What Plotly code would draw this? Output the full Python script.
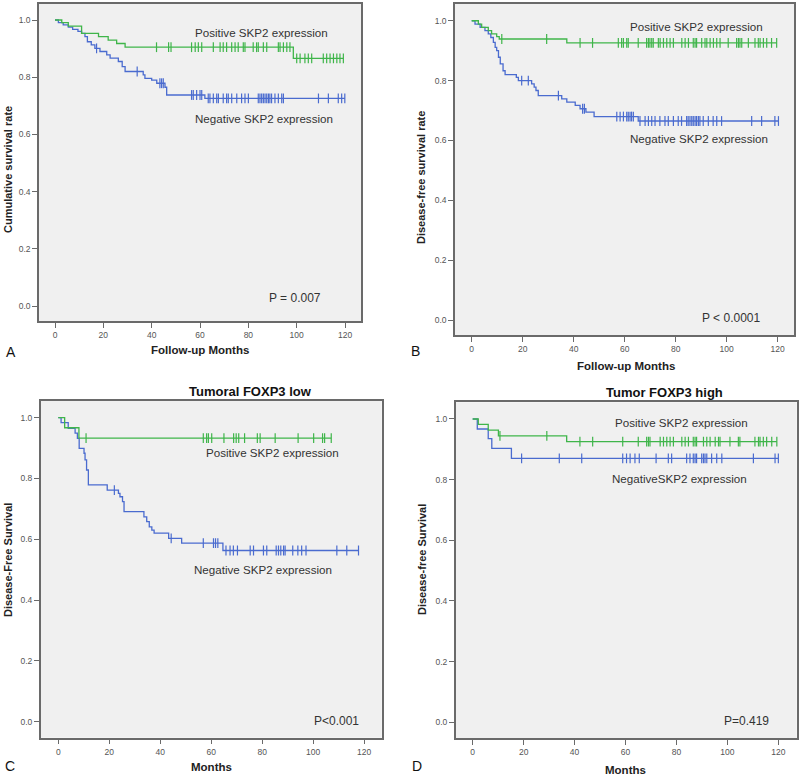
import plotly.graph_objects as go

FONT = "Liberation Sans, Arial, sans-serif"
GREEN = "#3fb54a"
BLUE = "#4a6bcf"

# ---------------- Panel A (overall survival) ----------------
A_pos_t = [2.8, 5.5, 11, 18, 22, 25.5, 29, 98.6]
A_pos_s = [0.991, 0.979, 0.953, 0.942, 0.930, 0.918, 0.905, 0.866]
A_pos_c = [42, 47, 48, 56.5, 58, 59.3, 60.7, 65.5, 68.3, 69.6, 71, 73.1, 74.5, 75.8,
           77.9, 78.6, 82, 83.4, 84.1, 86.2, 87.6, 92.4, 93.1, 94.5, 95.9, 97.2,
           100, 101.4, 103.4, 104.8, 106.2, 111, 112.4, 113.8, 115.2, 116.6, 117.9, 119.3]
A_neg_t = [1.4, 3.4, 5.5, 7.3, 9.5, 11, 12.4, 13.4, 15, 16.5, 18.6, 21.4, 22.8, 26.2,
           27.8, 29, 36.5, 37.2, 40, 42.1, 45.5, 46.2, 62]
A_neg_s = [0.991, 0.983, 0.975, 0.967, 0.96, 0.953, 0.942, 0.924, 0.913, 0.901, 0.89,
           0.878, 0.867, 0.855, 0.837, 0.82, 0.808, 0.796, 0.79, 0.779, 0.765, 0.738, 0.726]
A_neg_c = [17.2, 34, 43.4, 44.1, 44.8, 56.5, 57.2, 58.6, 60, 60.7, 63.4, 64.1, 65.5, 66.9,
           67.6, 69.6, 71, 71.7, 73.1, 75.2, 77.2, 78.6, 80, 84.1, 84.8, 85.5, 86.2, 86.9,
           87.6, 88.3, 88.9, 89.6, 91, 92.4, 93.8, 94.5, 109, 113.1, 117.2, 118.6, 119.9]

# ---------------- Panel B (disease-free survival) ----------------
B_pos_t = [2.6, 3.9, 6.5, 7.8, 9.8, 10.8, 37.3]
B_pos_s = [0.989, 0.978, 0.967, 0.956, 0.947, 0.939, 0.926]
B_pos_c = [11.8, 29.4, 42.5, 47.4, 57.5, 58.8, 59.5, 60.8, 61.4, 65.3, 68.6, 69.3, 69.9,
           70.6, 71.2, 73.2, 73.9, 75.2, 76.5, 77.8, 79.1, 82.4, 83.7, 85, 86.9, 87.6, 88.2,
           90.2, 91.5, 92.2, 93.5, 94.8, 96.1, 97.4, 100.6, 103.9, 104.6, 105.2, 105.9,
           108.5, 111.1, 112.4, 113.1, 114.4, 115.7, 117.6, 119.6]
B_neg_t = [1.3, 3.3, 5.2, 6.5, 7.5, 8.5, 9.2, 9.8, 10.5, 11.2, 12.3, 13.1, 17.5, 18.3,
           23.5, 24.5, 25.2, 26.1, 35.3, 37.3, 40.6, 42.5, 44.8, 48, 65.3]
B_neg_s = [0.989, 0.978, 0.967, 0.956, 0.944, 0.928, 0.911, 0.9, 0.878, 0.856, 0.833,
           0.82, 0.811, 0.8, 0.789, 0.778, 0.767, 0.75, 0.739, 0.728, 0.717, 0.706, 0.695,
           0.68, 0.665]
B_neg_c = [19.6, 22.2, 34, 43.5, 44.2, 56.9, 58.2, 59.5, 60.8, 61.4, 62.1, 62.7, 63.4, 66,
           68, 69.3, 70.6, 71.9, 73.8, 75.8, 77.1, 79.1, 81, 82.3, 84.3, 84.9, 85.6, 86.3,
           86.9, 87.6, 88.2, 88.9, 89.5, 90.8, 92.8, 94.7, 96.1, 98, 109.8, 113.7, 118.9, 120.3]

# ---------------- Panel C (Tumoral FOXP3 low) ----------------
C_pos_t = [2.5, 8.1]
C_pos_s = [0.967, 0.933]
C_pos_c = [10.9, 56.9, 58.2, 58.9, 60.2, 65, 68.8, 69.8, 70.8, 73.1, 78.1, 79.2, 85.1,
           94.1, 100.2, 103.7, 104.5, 107.1]
C_neg_t = [1.1, 3.9, 6.6, 7.5, 8.2, 10.1, 10.5, 11.1, 11.8, 19.2, 23.6, 24.2, 25.2, 25.8,
           33.6, 34.7, 35.7, 36.7, 37.6, 43.3, 48.4, 64.6]
C_neg_s = [0.984, 0.965, 0.949, 0.932, 0.899, 0.883, 0.861, 0.828, 0.779, 0.762, 0.751,
           0.74, 0.724, 0.691, 0.674, 0.658, 0.641, 0.63, 0.62, 0.603, 0.587, 0.563]
C_neg_c = [22, 44.3, 56.9, 60.9, 61.7, 62.6, 65.8, 67.4, 68.7, 70.3, 75.3, 76.6, 80.5, 81.8,
           85.5, 86.4, 87.3, 88.4, 89, 92, 94, 95.5, 97.2, 109.3, 113.2, 117.8]

# ---------------- Panel D (Tumor FOXP3 high) ----------------
D_pos_t = [2.2, 6.1, 10.1, 36.9]
D_pos_s = [0.982, 0.963, 0.944, 0.925]
D_pos_c = [10.7, 29.1, 42.1, 47.1, 58.9, 65, 68.3, 69, 69.6, 73.6, 74.9, 76.2, 77.5, 78.8,
           82.1, 83.4, 84.7, 86.6, 87.3, 87.9, 90.6, 91.9, 93.2, 95.2, 96.5, 97.1, 101,
           104.3, 104.9, 110.8, 112.2, 112.8, 114.1, 115.4, 117.4, 119.4]
D_neg_t = [1.8, 6.1, 7.5, 15.2]
D_neg_s = [0.967, 0.935, 0.903, 0.870]
D_neg_c = [19.2, 34, 42.8, 58.9, 60.4, 61.8, 63.7, 65.4, 72, 76.8, 78.1, 84, 85.3, 86.6,
           87.3, 87.9, 89.9, 90.6, 91.2, 91.9, 93.8, 95.8, 97.8, 110.2, 118.7, 120]

x_ticks = [0, 20, 40, 60, 80, 100, 120]
y_ticks = [0.0, 0.2, 0.4, 0.6, 0.8, 1.0]

W, H = 800, 779


def px(x):
    return x / W


def py(y):
    return 1 - y / H


# panel frames in pixels: left, right, top, bottom ; x range ; y range
panels = [
    dict(frame=(39, 361, 4, 321), xr=[-6.62, 126.6], yr=[-0.052, 1.056],
         series=[(A_neg_t, A_neg_s, A_neg_c, BLUE), (A_pos_t, A_pos_s, A_pos_c, GREEN)]),
    dict(frame=(455, 794, 4, 335), xr=[-6.55, 126.4], yr=[-0.05, 1.056],
         series=[(B_neg_t, B_neg_s, B_neg_c, BLUE), (B_pos_t, B_pos_s, B_pos_c, GREEN)]),
    dict(frame=(40.7, 381.7, 400.7, 737.7), xr=[-6.9, 126.9], yr=[-0.053, 1.056],
         series=[(C_neg_t, C_neg_s, C_neg_c, BLUE), (C_pos_t, C_pos_s, C_pos_c, GREEN)]),
    dict(frame=(455.7, 796.7, 402.3, 738.3), xr=[-6.67, 127.2], yr=[-0.053, 1.055],
         series=[(D_neg_t, D_neg_s, D_neg_c, BLUE), (D_pos_t, D_pos_s, D_pos_c, GREEN)]),
]


def surv_at(ts, ss, t):
    v = 1.0
    for ti, si in zip(ts, ss):
        if ti <= t:
            v = si
    return v


fig = go.Figure()
layout_axes = {}
for i, p in enumerate(panels):
    suffix = "" if i == 0 else str(i + 1)
    xa, ya = "x" + suffix, "y" + suffix
    for t, s, c, col in p["series"]:
        end = max(c[-1], t[-1])
        fig.add_trace(go.Scatter(
            x=[0] + t + [end], y=[1.0] + s + [s[-1]], mode="lines",
            line=dict(color=col, width=1.3, shape="hv"),
            xaxis=xa, yaxis=ya, showlegend=False, hoverinfo="skip"))
        fig.add_trace(go.Scatter(
            x=c, y=[surv_at(t, s, ci) for ci in c], mode="markers",
            marker=dict(symbol="line-ns-open", size=7, color=col,
                        line=dict(color=col, width=1.2)),
            xaxis=xa, yaxis=ya, showlegend=False, hoverinfo="skip"))
    l, r, top, b = p["frame"]
    common = dict(showline=True, linecolor="#6a6a6a", linewidth=1.5, mirror=True,
                  showgrid=False, zeroline=False, ticks="outside", ticklen=5,
                  tickcolor="#6a6a6a", tickwidth=1,
                  tickfont=dict(size=8.5, color="#555555", family=FONT))
    layout_axes["xaxis" + suffix] = dict(common, domain=[px(l), px(r)], range=p["xr"],
                                         tickvals=x_ticks, anchor=ya)
    layout_axes["yaxis" + suffix] = dict(common, domain=[py(b), py(top)], range=p["yr"],
                                         tickvals=y_ticks, tickformat=".1f", anchor=xa)

ann = []


def text(x, y, s, size=12, color="#333333", bold=False, xanchor="center", angle=0):
    ann.append(dict(x=px(x), y=py(y), xref="paper", yref="paper", text=("<b>%s</b>" % s) if bold else s,
                    showarrow=False, xanchor=xanchor, yanchor="middle", textangle=angle,
                    font=dict(size=size, color=color, family=FONT)))


# series labels
LS = 11.6
text(193, 32, "Positive SKP2 expression", size=LS, xanchor="left")
text(193, 119, "Negative SKP2 expression", size=LS, xanchor="left")
text(627.7, 26.7, "Positive SKP2 expression", size=LS, xanchor="left")
text(627.7, 139, "Negative SKP2 expression", size=LS, xanchor="left")
text(204, 452, "Positive SKP2 expression", size=LS, xanchor="left")
text(192, 569.3, "Negative SKP2 expression", size=LS, xanchor="left")
text(613, 422.7, "Positive SKP2 expression", size=LS, xanchor="left")
text(610, 479, "NegativeSKP2 expression", size=LS, xanchor="left")

# p-values
text(295, 298, "P = 0.007")
text(731, 317.7, "P &lt; 0.0001")
text(336, 721, "P&lt;0.001")
text(746, 721, "P=0.419")

# panel titles
text(251, 391.7, "Tumoral FOXP3 low", size=13, color="#111111", bold=True)
text(664, 392, "Tumor FOXP3 high", size=13, color="#111111", bold=True)

# axis titles
text(200, 350, "Follow-up Months", size=11.5, color="#222222", bold=True)
text(625.7, 365.7, "Follow-up Months", size=11.5, color="#222222", bold=True)
text(211, 767, "Months", size=11.5, color="#222222", bold=True)
text(625, 770, "Months", size=11.5, color="#222222", bold=True)
text(8, 170, "Cumulative survival rate", size=11, color="#222222", bold=True, angle=-90)
text(421, 178, "Disease-free survival rate", size=11, color="#222222", bold=True, angle=-90)
text(8, 560, "Disease-Free Survival", size=11, color="#222222", bold=True, angle=-90)
text(422, 560, "Disease-free Survival", size=11, color="#222222", bold=True, angle=-90)

# panel letters
text(11, 351.7, "A", size=14, color="#111111")
text(415, 351, "B", size=14, color="#111111")
text(10, 766, "C", size=14, color="#111111")
text(417, 766, "D", size=14, color="#111111")

fig.update_layout(width=W, height=H, margin=dict(l=0, r=0, t=0, b=0),
                  paper_bgcolor="white", plot_bgcolor="#f0f0f0",
                  font=dict(family=FONT), annotations=ann, **layout_axes)

fig.write_html("out.html", config={"displayModeBar": False},
               post_script="document.body.style.margin='0';")
